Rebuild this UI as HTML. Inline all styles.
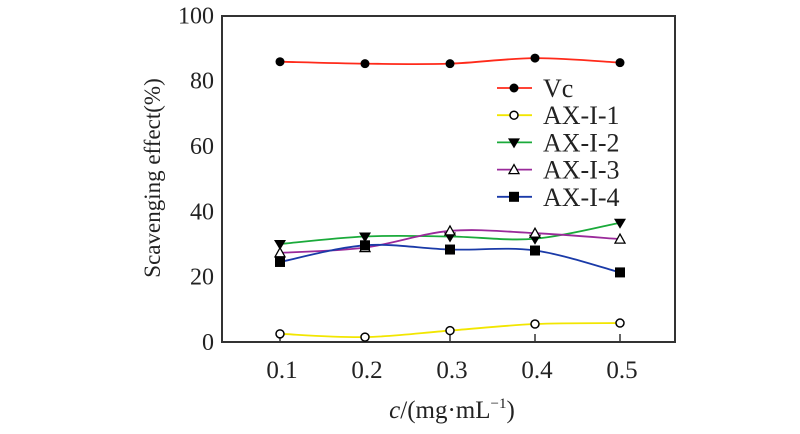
<!DOCTYPE html>
<html><head><meta charset="utf-8"><style>
body{margin:0;background:#fff}
svg{display:block;font-family:"Liberation Serif",serif}
</style></head><body>
<svg id="c" width="800" height="434"></svg>
<script>
const categories=[0.1,0.2,0.3,0.4,0.5];
const vc=[85.8,85.2,85.2,86.9,85.5];
const ax1=[2.5,1.5,3.5,5.5,5.8];
const ax2=[30,32.3,32.3,31.6,36.5];
const ax3=[27.3,28.9,34,33.3,31.5];
const ax4=[24.5,29.6,28.3,28,21.3];
const yTicks=[0,20,40,60,80,100];
const seriesNames=["Vc","AX-I-1","AX-I-2","AX-I-3","AX-I-4"];
const seriesData=[vc,ax1,ax2,ax3,ax4];
const colors=["#ff2a1a","#f2e600","#1aaa3a","#9a2a9a","#1a3aa8"];
const markers=["circle","ocircle","tridown","triup","square"];
const NS="http://www.w3.org/2000/svg";
const svg=document.getElementById('c');
const X0=222,X1=675,Y0=342,Y1=15.3;
function xs(v){return 280+(v-0.1)/0.1*85;}
function ys(v){return Y0-(v/100)*(Y0-Y1);}
function mk(t,a,p){const e=document.createElementNS(NS,t);for(const k in a)e.setAttribute(k,a[k]);(p||svg).appendChild(e);return e;}
let e=mk('rect',{x:X0,y:16,width:X1-X0,height:Y0-16,fill:'none',stroke:'#333','stroke-width':2});


yTicks.forEach(t=>{const tx=mk('text',{x:214,y:ys(t)+8,'text-anchor':'end','font-size':24,fill:'#222'});tx.textContent=t;

});
categories.forEach(c=>{const l=mk('line',{x1:xs(c),x2:xs(c),y1:Y0,y2:Y0-8,stroke:'#333','stroke-width':1.5});


const tx=mk('text',{x:xs(c)+2,y:378,'text-anchor':'middle','font-size':25,fill:'#222'});tx.textContent=c.toFixed(1);

});
let yt=mk('text',{x:0,y:0,transform:'translate(160,178) rotate(-90)','text-anchor':'middle','font-size':23,fill:'#222'});
yt.textContent='Scavenging effect(%)';


let xt=mk('text',{x:452,y:418,'text-anchor':'middle','font-size':25,fill:'#222'});
xt.innerHTML='<tspan font-style="italic">c</tspan>/(mg·mL<tspan font-size="15" dy="-10">−1</tspan><tspan dy="10">)</tspan>';


function path(pts){let d='M'+pts[0][0]+','+pts[0][1];for(let i=0;i<pts.length-1;i++){const p0=pts[i-1]||pts[i],p1=pts[i],p2=pts[i+1],p3=pts[i+2]||p2;
d+=' C'+(p1[0]+(p2[0]-p0[0])/6)+','+(p1[1]+(p2[1]-p0[1])/6)+' '+(p2[0]-(p3[0]-p1[0])/6)+','+(p2[1]-(p3[1]-p1[1])/6)+' '+p2[0]+','+p2[1];}return d;}
function marker(type,x,y,g){
if(type==='circle')return mk('circle',{cx:x,cy:y,r:4.5,fill:'#000'},g);
if(type==='ocircle')return mk('circle',{cx:x,cy:y,r:4,fill:'#fff',stroke:'#000','stroke-width':1.5},g);
if(type==='tridown')return mk('polygon',{points:`${x-6},${y-4} ${x+6},${y-4} ${x},${y+6}`,fill:'#000'},g);
if(type==='triup')return mk('polygon',{points:`${x-5},${y+4} ${x+5},${y+4} ${x},${y-5}`,fill:'#fff',stroke:'#000','stroke-width':1.3},g);
return mk('rect',{x:x-5,y:y-5,width:10,height:10,fill:'#000'},g);}
seriesData.forEach((s,i)=>{
const g=mk('g',{});


const pts=s.map((v,j)=>[xs(categories[j]),ys(v)]);
mk('path',{d:path(pts),fill:'none',stroke:colors[i],'stroke-width':1.8},g);
pts.forEach(p=>{const m=marker(markers[i],p[0],p[1],g);

});
const ly=88+i*27.2;
const lg=mk('g',{});


mk('line',{x1:497,x2:532,y1:ly,y2:ly,stroke:colors[i],'stroke-width':1.8},lg);
marker(markers[i],514,ly,lg);
const t=mk('text',{x:543,y:ly+9,'font-size':26,fill:'#222'},lg);t.textContent=seriesNames[i];
});
</script>
</body></html>
